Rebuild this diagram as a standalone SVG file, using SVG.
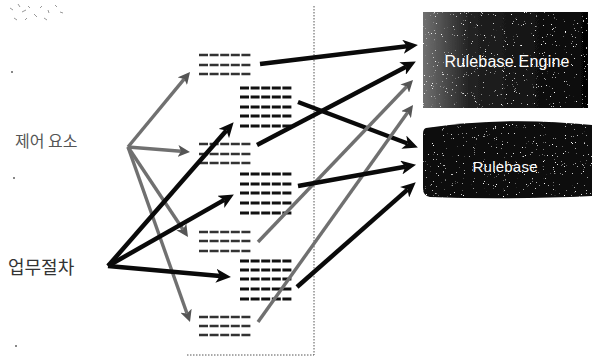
<svg xmlns="http://www.w3.org/2000/svg" width="592" height="358" viewBox="0 0 592 358">
<style>
  .lbl { font-family: "Noto Sans CJK KR", "Noto Sans", sans-serif; }
  .box-t { font-family: "Liberation Sans", Arial, sans-serif; fill: #fff; text-anchor: middle; }
  .blk { stroke: #111; stroke-width: 3; stroke-dasharray: 9 1.6; fill: none; }
  .blk.lt { stroke-width: 2.4; stroke: #333; }
  .bl { stroke: #0a0a0a; stroke-width: 4.5; fill: none; marker-end: url(#ab); }
  .gr { stroke: #707070; stroke-width: 3.4; fill: none; marker-end: url(#ag); }
  .dot { stroke: #555; stroke-width: 1; stroke-dasharray: 1.5 1.5; fill: none; }
</style>
<defs>
  <marker id="ab" markerUnits="userSpaceOnUse" markerWidth="16" markerHeight="14" refX="4" refY="7" orient="auto">
    <path d="M0,0 L15,7 L0,14 L4,7 Z" fill="#0a0a0a"/>
  </marker>
  <marker id="ag" markerUnits="userSpaceOnUse" markerWidth="14" markerHeight="12" refX="3" refY="6" orient="auto">
    <path d="M0,0 L12,6 L0,12 L3,6 Z" fill="#555"/>
  </marker>
  <linearGradient id="eg" x1="0" y1="0" x2="1" y2="0">
    <stop offset="0" stop-color="#707070"/>
    <stop offset="0.28" stop-color="#222"/>
    <stop offset="1" stop-color="#050505"/>
  </linearGradient>
  <filter id="grain" x="0" y="0" width="100%" height="100%">
    <feTurbulence type="fractalNoise" baseFrequency="0.9" numOctaves="2" seed="4" result="n"/>
    <feColorMatrix in="n" type="matrix" values="0 0 0 0 1  0 0 0 0 1  0 0 0 0 1  0 0 0 10 -7.2" result="d"/>
    <feComposite in="d" in2="SourceAlpha" operator="in" result="d2"/>
    <feMerge><feMergeNode in="SourceGraphic"/><feMergeNode in="d2"/></feMerge>
  </filter>
</defs>
<rect width="592" height="358" fill="#fff"/>

<g id="frame">
  <line class="dot" x1="314" y1="6" x2="314" y2="355"/>
  <line class="dot" x1="187" y1="355" x2="314" y2="355"/>
</g>

<g id="specks" fill="#888" stroke="none">
  <path d="M10,8 l3,2 M18,4 l2,3 M22,12 l4,-2 M28,6 l2,2 M34,14 l3,3 M40,8 l2,-2 M48,10 l1,3 M55,5 l2,2 M60,12 l3,1 M14,18 l3,2 M25,20 l2,-2 M44,18 l3,2" stroke="#999" stroke-width="1"/>
  <rect x="11" y="71" width="2" height="2"/>
  <rect x="13" y="177" width="2" height="2"/>
  <rect x="15" y="345" width="2" height="2"/>
</g>

<g id="label-control">
  <text class="lbl" x="15" y="147" font-size="16" fill="#555">제어 요소</text>
</g>
<g id="label-procedure">
  <text class="lbl" x="8" y="274" font-size="18" fill="#333">업무절차</text>
</g>

<g id="block-a">
  <line class="blk lt" x1="199" y1="55" x2="252" y2="55"/>
  <line class="blk lt" x1="199" y1="65" x2="252" y2="65"/>
  <line class="blk lt" x1="199" y1="74" x2="252" y2="74"/>
</g>
<g id="block-b">
  <line class="blk" x1="240" y1="88" x2="292" y2="88"/>
  <line class="blk" x1="240" y1="97" x2="292" y2="97"/>
  <line class="blk" x1="240" y1="107" x2="292" y2="107"/>
  <line class="blk" x1="240" y1="116" x2="292" y2="116"/>
  <line class="blk" x1="240" y1="126" x2="292" y2="126"/>
</g>
<g id="block-c">
  <line class="blk lt" x1="199" y1="144" x2="252" y2="144"/>
  <line class="blk lt" x1="199" y1="154" x2="252" y2="154"/>
  <line class="blk lt" x1="199" y1="163" x2="252" y2="163"/>
</g>
<g id="block-d">
  <line class="blk" x1="240" y1="174" x2="292" y2="174"/>
  <line class="blk" x1="240" y1="184" x2="292" y2="184"/>
  <line class="blk" x1="240" y1="193" x2="292" y2="193"/>
  <line class="blk" x1="240" y1="203" x2="292" y2="203"/>
  <line class="blk" x1="240" y1="213" x2="292" y2="213"/>
</g>
<g id="block-e">
  <line class="blk lt" x1="199" y1="232" x2="252" y2="232"/>
  <line class="blk lt" x1="199" y1="241" x2="252" y2="241"/>
  <line class="blk lt" x1="199" y1="251" x2="252" y2="251"/>
</g>
<g id="block-f">
  <line class="blk" x1="240" y1="261" x2="292" y2="261"/>
  <line class="blk" x1="240" y1="270" x2="292" y2="270"/>
  <line class="blk" x1="240" y1="279" x2="292" y2="279"/>
  <line class="blk" x1="240" y1="289" x2="292" y2="289"/>
  <line class="blk" x1="240" y1="299" x2="292" y2="299"/>
</g>
<g id="block-g">
  <line class="blk lt" x1="199" y1="317" x2="252" y2="317"/>
  <line class="blk lt" x1="199" y1="326" x2="252" y2="326"/>
  <line class="blk lt" x1="199" y1="335" x2="252" y2="335"/>
</g>

<g id="engine">
  <rect x="423" y="12" width="165" height="96" fill="url(#eg)" filter="url(#grain)"/>
  <text class="box-t" x="507" y="67" font-size="16" textLength="125">Rulebase Engine</text>
</g>
<g id="rulebase">
  <path d="M426,128 Q505,116 592,125 L592,196 Q505,200 430,197 Q423,196 423,188 L423,134 Q423,129 426,128 Z" fill="#080808" filter="url(#grain)"/>
  <text class="box-t" x="505" y="172" font-size="15" textLength="65">Rulebase</text>
</g>

<g id="connectors">
  <path class="gr" d="M128,147 L184.3,78.9"/>
  <path class="gr" d="M128,147 L181,151.3"/>
  <path class="gr" d="M128,147 L183,229.5"/>
  <path class="gr" d="M128,147 L187,313.5"/>
  <path class="bl" d="M108,266 L226.4,130.5"/>
  <path class="bl" d="M108,266 L224.3,199.9"/>
  <path class="bl" d="M108,266 L220,276.1"/>
  <path class="bl" d="M260,64 L407,46.2"/>
  <path class="bl" d="M257,145 L406.1,66.7"/>
  <path class="bl" d="M298,102 L407.6,143.5"/>
  <path class="gr" d="M258,242 L406.8,86.5"/>
  <path class="gr" d="M258,322 L407.8,112.3"/>
  <path class="bl" d="M298,186 L405.2,166.8"/>
  <path class="bl" d="M297,287 L407.5,189.6"/>
</g>
</svg>
